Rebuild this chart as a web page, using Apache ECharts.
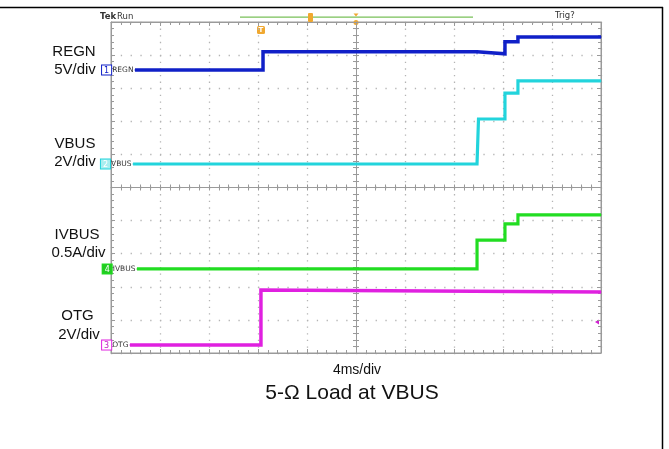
<!DOCTYPE html>
<html>
<head>
<meta charset="utf-8">
<script src="https://cdn.jsdelivr.net/npm/echarts@6/dist/echarts.min.js"></script>
<style>
html,body{margin:0;padding:0;background:#fff;}
#c{width:669px;height:449px;}
</style>
</head>
<body>
<div id="c"></div>
<script>
// Time in ms relative to screen centre (4 ms/div), level in screen divisions relative to centre
const regnT = [-18.04, -7.59, -7.59, 9.88, 9.88, 12.16, 12.16, 13.22, 13.22, 20];
const regnV = [3.55, 3.55, 4.10, 4.10, 4.04, 4.04, 4.40, 4.40, 4.55, 4.55];
const vbusT = [-18.2, 9.88, 10.0, 12.16, 12.16, 13.22, 13.22, 20];
const vbusV = [0.71, 0.71, 2.07, 2.07, 2.85, 2.85, 3.22, 3.22];
const ivbusT = [-17.88, 9.88, 9.88, 12.16, 12.16, 13.22, 13.22, 20];
const ivbusV = [-2.46, -2.46, -1.59, -1.59, -1.10, -1.10, -0.83, -0.83];
const otgT = [-18.45, -7.76, -7.76, 20];
const otgV = [-4.76, -4.76, -3.10, -3.16];

const channelNames = ['REGN', 'VBUS', 'IVBUS', 'OTG'];
const channelNums = ['1', '2', '4', '3'];
const scaleLabels = ['5V/div', '2V/div', '0.5A/div', '2V/div'];
const timeLabel = '4ms/div';
const caption = '5-\u03A9 Load at VBUS';

const colors = ['#1020c8', '#22d4dc', '#22dd22', '#e020e0'];
const boxFill = ['#ffffff', '#a8eef0', '#22cc22', '#ffffff'];
const boxText = ['#1020c8', '#ffffff', '#ffffff', '#c020c0'];

const chart = echarts.init(document.getElementById('c'), null, {renderer: 'canvas'});

function mkSeries(idx, T, V, width) {
  const data = T.map((t, i) => [t, V[i]]);
  data[0] = {
    value: data[0],
    label: {
      show: true, position: 'left', distance: 1,
      formatter: '{b|' + channelNums[idx] + '}{n|' + channelNames[idx] + '}',
      rich: {
        b: {fontSize: 8, color: boxText[idx], backgroundColor: boxFill[idx],
            borderColor: colors[idx], borderWidth: 1, padding: [1, 2, 0, 2],
            fontFamily: 'DejaVu Sans'},
        n: {fontSize: 7.5, color: '#333', fontFamily: 'DejaVu Sans', padding: [0, 0, 0, 1]}
      }
    }
  };
  return {
    type: 'line', xAxisIndex: 0, yAxisIndex: 0, data: data,
    showSymbol: true, symbol: 'rect', symbolSize: 1,
    itemStyle: {color: colors[idx]},
    lineStyle: {color: colors[idx], width: width, join: 'miter'},
    animation: false, silent: true
  };
}

const gridCol = '#b4b4b4';
const edgeCol = '#9a9a9a';

const xCommon = {type: 'value', min: -20, max: 20, gridIndex: 0, axisLabel: {show: false}};
const yCommon = {type: 'value', min: -5, max: 5, gridIndex: 0, axisLabel: {show: false}};

const option = {
  animation: false,
  grid: {left: 111, top: 22, width: 490, height: 331, show: true,
         borderColor: edgeCol, borderWidth: 1, containLabel: false},
  xAxis: [
    Object.assign({}, xCommon, {
      position: 'bottom', interval: 4,
      axisLine: {show: true, onZero: false, lineStyle: {color: edgeCol}},
      axisTick: {show: true, inside: true, length: 4, lineStyle: {color: edgeCol}},
      minorTick: {show: true, splitNumber: 5, length: 3, lineStyle: {color: edgeCol}},
      splitLine: {show: true, lineStyle: {color: gridCol, width: 1.3, type: [1.3, 5.32]}}
    }),
    Object.assign({}, xCommon, {
      position: 'top', interval: 4,
      axisLine: {show: true, onZero: false, lineStyle: {color: edgeCol}},
      axisTick: {show: true, inside: true, length: 4, lineStyle: {color: edgeCol}},
      minorTick: {show: true, splitNumber: 5, length: 3, lineStyle: {color: edgeCol}},
      splitLine: {show: false}
    }),
    Object.assign({}, xCommon, {
      interval: 0.8,
      axisLine: {show: true, onZero: true, onZeroAxisIndex: 0, lineStyle: {color: edgeCol}},
      axisTick: {show: true, inside: true, length: 3, lineStyle: {color: edgeCol}},
      splitLine: {show: false}
    }),
    Object.assign({}, xCommon, {
      interval: 0.8,
      axisLine: {show: false, onZero: true, onZeroAxisIndex: 0},
      axisTick: {show: true, inside: false, length: 3, lineStyle: {color: edgeCol}},
      splitLine: {show: false}
    })
  ],
  yAxis: [
    Object.assign({}, yCommon, {
      position: 'left', interval: 1,
      axisLine: {show: true, onZero: false, lineStyle: {color: edgeCol}},
      axisTick: {show: true, inside: true, length: 4, lineStyle: {color: edgeCol}},
      minorTick: {show: true, splitNumber: 5, length: 3, lineStyle: {color: edgeCol}},
      splitLine: {show: true, lineStyle: {color: gridCol, width: 1.3, type: [1.3, 8.5]}}
    }),
    Object.assign({}, yCommon, {
      position: 'right', interval: 1,
      axisLine: {show: true, onZero: false, lineStyle: {color: edgeCol}},
      axisTick: {show: true, inside: true, length: 4, lineStyle: {color: edgeCol}},
      minorTick: {show: true, splitNumber: 5, length: 3, lineStyle: {color: edgeCol}},
      splitLine: {show: false}
    }),
    Object.assign({}, yCommon, {
      interval: 0.2,
      axisLine: {show: true, onZero: true, onZeroAxisIndex: 0, lineStyle: {color: edgeCol}},
      axisTick: {show: true, inside: true, length: 3, lineStyle: {color: edgeCol}},
      splitLine: {show: false}
    }),
    Object.assign({}, yCommon, {
      interval: 0.2,
      axisLine: {show: false, onZero: true, onZeroAxisIndex: 0},
      axisTick: {show: true, inside: false, length: 3, lineStyle: {color: edgeCol}},
      splitLine: {show: false}
    })
  ],
  series: [
    mkSeries(3, otgT, otgV, 3.5),
    mkSeries(2, ivbusT, ivbusV, 3.2),
    mkSeries(1, vbusT, vbusV, 3.2),
    mkSeries(0, regnT, regnV, 3.5)
  ],
  graphic: [
    // page frame
    {type: 'line', shape: {x1: 0, y1: 7.5, x2: 663, y2: 7.5}, style: {stroke: '#000', lineWidth: 1.5}, silent: true},
    {type: 'line', shape: {x1: 662.5, y1: 7, x2: 662.5, y2: 449}, style: {stroke: '#000', lineWidth: 1.5}, silent: true},
    // scope header
    {type: 'text', left: 100, top: 12, style: {text: 'Tek', font: 'bold 8.5px "DejaVu Sans"', fill: '#333'}},
    {type: 'text', left: 117, top: 12, style: {text: 'Run', font: '8.5px "DejaVu Sans"', fill: '#333'}},
    {type: 'text', left: 555, top: 11, style: {text: 'Trig?', font: '8.5px "DejaVu Sans"', fill: '#333'}},
    {type: 'rect', shape: {x: 240, y: 16.5, width: 233, height: 1.2}, style: {fill: '#78c058'}, silent: true},
    {type: 'rect', shape: {x: 308, y: 13, width: 5, height: 9, r: 1}, style: {fill: '#f0a830'}, silent: true},
    {type: 'polygon', shape: {points: [[353.5, 13.5], [358.5, 13.5], [356, 16.5]]}, style: {fill: '#f0a830'}, silent: true},
    {type: 'circle', shape: {cx: 356, cy: 22.5, r: 2.5}, style: {fill: '#f0a830'}, silent: true},
    {type: 'rect', shape: {x: 257, y: 26, width: 8, height: 8, r: 1.5}, style: {fill: '#f0a830'}, silent: true},
    {type: 'text', x: 261, y: 30, style: {text: 'T', font: 'bold 7px "DejaVu Sans"', fill: '#fff', align: 'center', verticalAlign: 'middle'}},
    {type: 'polygon', shape: {points: [[595, 322], [599, 319.5], [599, 324.5]]}, style: {fill: '#d020d0'}, silent: true},
    // channel captions
    {type: 'text', x: 74, y: 52, style: {text: channelNames[0], font: '15px "Liberation Sans"', fill: '#111', align: 'center', verticalAlign: 'middle'}},
    {type: 'text', x: 75, y: 70, style: {text: scaleLabels[0], font: '15px "Liberation Sans"', fill: '#111', align: 'center', verticalAlign: 'middle'}},
    {type: 'text', x: 75, y: 144, style: {text: channelNames[1], font: '15px "Liberation Sans"', fill: '#111', align: 'center', verticalAlign: 'middle'}},
    {type: 'text', x: 75, y: 162, style: {text: scaleLabels[1], font: '15px "Liberation Sans"', fill: '#111', align: 'center', verticalAlign: 'middle'}},
    {type: 'text', x: 77, y: 235, style: {text: channelNames[2], font: '15px "Liberation Sans"', fill: '#111', align: 'center', verticalAlign: 'middle'}},
    {type: 'text', x: 78.5, y: 253, style: {text: scaleLabels[2], font: '15px "Liberation Sans"', fill: '#111', align: 'center', verticalAlign: 'middle'}},
    {type: 'text', x: 77.5, y: 316, style: {text: channelNames[3], font: '15px "Liberation Sans"', fill: '#111', align: 'center', verticalAlign: 'middle'}},
    {type: 'text', x: 79, y: 335, style: {text: scaleLabels[3], font: '15px "Liberation Sans"', fill: '#111', align: 'center', verticalAlign: 'middle'}},
    // bottom texts
    {type: 'text', x: 357, y: 370, style: {text: timeLabel, font: '14px "Liberation Sans"', fill: '#111', align: 'center', verticalAlign: 'middle'}},
    {type: 'text', x: 352, y: 393, style: {text: caption, font: '21px "Liberation Sans"', fill: '#111', align: 'center', verticalAlign: 'middle'}}
  ]
};
chart.setOption(option);
</script>
</body>
</html>
